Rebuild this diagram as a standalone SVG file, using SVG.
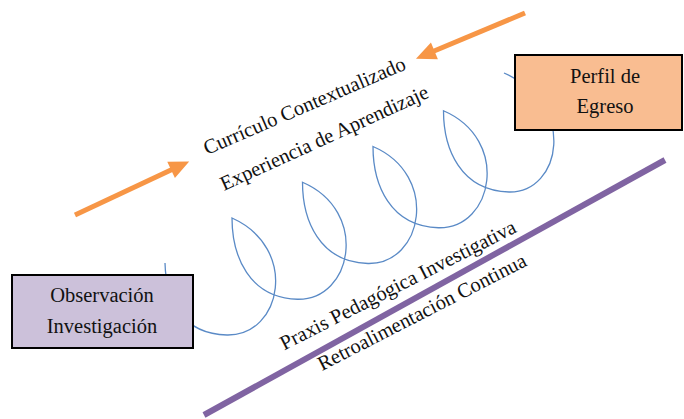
<svg xmlns="http://www.w3.org/2000/svg" width="684" height="419" viewBox="0 0 684 419">
  <style>
    .lbl { font-family: "Liberation Serif", "Times New Roman", serif; font-size: 20.5px; fill: #111; }
    .box { stroke: #000; stroke-width: 2; }
    .arrow { stroke: #F79646; stroke-width: 5; fill: none; marker-end: url(#ohead); }
    .coil { stroke: #5A8AC6; stroke-width: 1.3; fill: none; }
  </style>
  <defs>
    <marker id="ohead" markerUnits="strokeWidth" markerWidth="4.2" markerHeight="3.8" refX="0.2" refY="1.8" orient="auto" overflow="visible">
      <path d="M0,0 L4,1.8 L0,3.6 z" fill="#F79646"/>
    </marker>
  </defs>
  <rect width="684" height="419" fill="#fff"/>

  <g id="coil">
    <path class="coil" d="M165,263 C166,300 182,334 227,335
      C282,336 299,248 232,218
      C232,256 249,298 297.5,299.25
      C352.5,300.25 369.5,211.25 302.5,182.25
      C302.5,220.25 319.5,262.25 368,263.5
      C423,264.5 440,175.5 373,146.5
      C373,184.5 390,226.5 438.5,227.75
      C493.5,228.75 510.5,139.75 443.5,110.75
      C443.5,148.75 460.5,190.75 509,192
      C561,193 578,105 504,73"/>
  </g>

  <g id="connectors">
    <line class="arrow" x1="75" y1="215" x2="172" y2="169.5"/>
    <line class="arrow" x1="525" y1="13" x2="433.5" y2="51.3"/>
    <line id="feedback-line" x1="204" y1="415" x2="665" y2="160" stroke="#8064A2" stroke-width="6"/>
  </g>

  <g id="observacion">
    <rect class="box" x="12" y="275" width="181" height="73" fill="#CCC1DA"/>
    <text class="lbl" x="102" y="302" text-anchor="middle">Observación</text>
    <text class="lbl" x="102" y="333" text-anchor="middle">Investigación</text>
  </g>

  <g id="perfil">
    <rect class="box" x="515" y="55" width="167" height="75" fill="#F9BD91"/>
    <text class="lbl" x="605" y="83" text-anchor="middle">Perfil de</text>
    <text class="lbl" x="605" y="113" text-anchor="middle">Egreso</text>
  </g>

  <g id="labels">
    <text class="lbl" text-anchor="middle" transform="translate(307,112) rotate(-23.3)">Currículo Contextualizado</text>
    <text class="lbl" text-anchor="middle" transform="translate(327,144) rotate(-24.5)">Experiencia de Aprendizaje</text>
    <text class="lbl" text-anchor="middle" transform="translate(401,291) rotate(-27)">Praxis Pedagógica Investigativa</text>
    <text class="lbl" text-anchor="middle" transform="translate(425,318) rotate(-27.2)">Retroalimentación Continua</text>
  </g>
</svg>
